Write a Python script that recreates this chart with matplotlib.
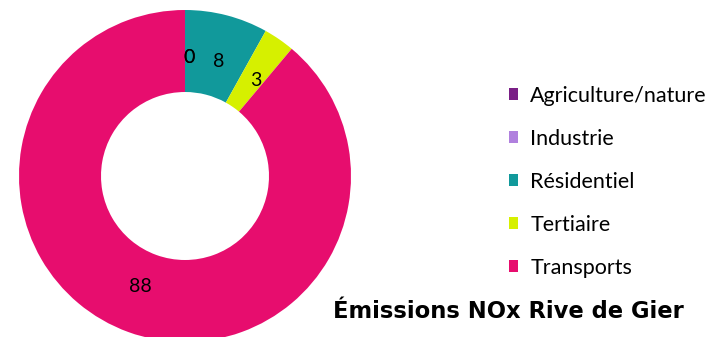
import numpy as np
import matplotlib.pyplot as plt

sectors = ["Agriculture/nature", "Industrie", "Résidentiel", "Tertiaire", "Transports"]
shares = [0, 0, 8, 3, 88]
colors = ["#7a1f86", "#b080de", "#11999b", "#d6f000", "#e70d6e"]

W, H = 714, 337
fig = plt.figure(figsize=(W / 100, H / 100), dpi=100)
ax = fig.add_axes([0, 0, 1, 1])

# donut in pixel space, centre near the left, bottom clipped by the frame
cx, cy, r_out = 185, H - 176, 166
r_in = 84

wedges, _ = ax.pie(
    shares, colors=colors, startangle=90, counterclock=False,
    center=(cx, cy), radius=r_out,
    wedgeprops=dict(width=r_out - r_in, edgecolor="none"),
)

# value labels in the middle of the ring
total = sum(shares)
start = 0.0
r_lab = 0.5 * (r_out + r_in) - 6
for v in shares:
    mid = np.deg2rad(90 - (start + v / 2) / total * 360 - 2)
    ax.text(cx + r_lab * np.cos(mid), cy + r_lab * np.sin(mid), f"{v}",
            ha="center", va="center", fontsize=14, family="Lato")
    start += v

ax.set_xlim(0, W)
ax.set_ylim(0, H)
ax.set_aspect("equal")
ax.axis("off")

leg = ax.legend(
    wedges, sectors, loc="upper left", bbox_to_anchor=(500 / W, 1 - 77 / H),
    frameon=False, prop=dict(family="Lato", size=15.5),
    handlelength=0.45, handleheight=0.45, handletextpad=0.55, labelspacing=1.07,
    borderaxespad=0,
)

ax.text(508, H - 311, "Émissions NOx Rive de Gier", ha="center", va="center",
        fontsize=16.3, fontweight="bold", family="DejaVu Sans")

fig.savefig("out.png", dpi=100)
